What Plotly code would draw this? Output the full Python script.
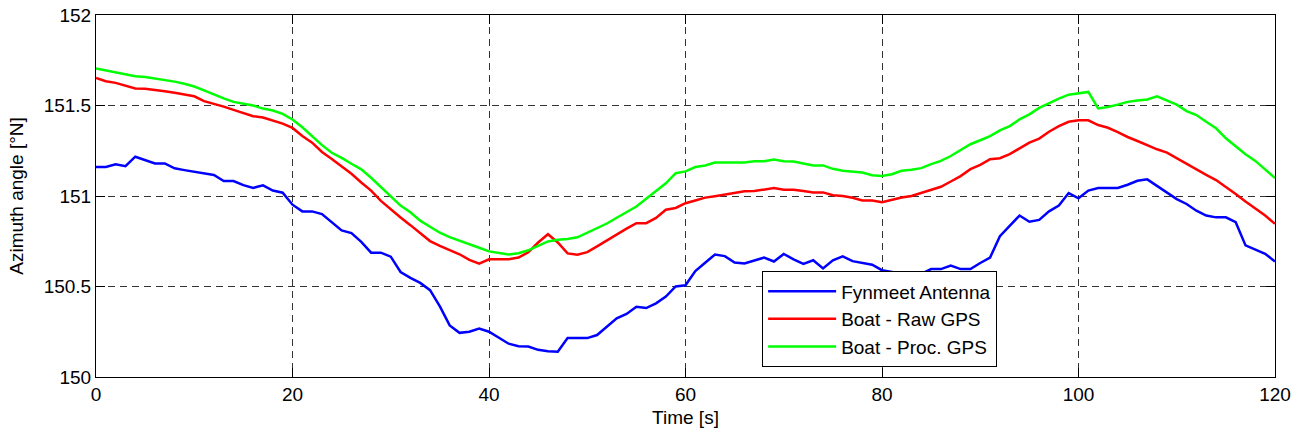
import plotly.graph_objects as go

time_s = list(range(0, 121))

fynmeet_antenna = [
    151.16, 151.16, 151.175, 151.165, 151.217, 151.20, 151.18, 151.18, 151.153, 151.143,
    151.134, 151.125, 151.116, 151.083, 151.083, 151.06, 151.045, 151.059, 151.03, 151.018,
    150.952, 150.915, 150.915, 150.90, 150.857, 150.81, 150.795, 150.747, 150.687, 150.687,
    150.665, 150.58, 150.548, 150.52, 150.48, 150.39, 150.285, 150.244, 150.25, 150.267,
    150.25, 150.216, 150.184, 150.17, 150.168, 150.15, 150.142, 150.14, 150.215, 150.215,
    150.215, 150.232, 150.278, 150.324, 150.348, 150.388, 150.381, 150.407, 150.444, 150.50,
    150.507, 150.585, 150.631, 150.677, 150.668, 150.632, 150.627, 150.645, 150.66, 150.638,
    150.68, 150.65, 150.625, 150.645, 150.60, 150.645, 150.667, 150.64, 150.63, 150.62,
    150.59, 150.58, 150.565, 150.56, 150.57, 150.596, 150.596, 150.615, 150.596, 150.596,
    150.63, 150.66, 150.778, 150.838, 150.892, 150.858, 150.868, 150.915, 150.947, 151.016,
    150.987, 151.03, 151.044, 151.044, 151.044, 151.062, 151.084, 151.092, 151.056, 151.02,
    150.983, 150.956, 150.919, 150.892, 150.882, 150.882, 150.855, 150.727, 150.703, 150.681,
    150.638,
]

boat_raw_gps = [
    151.652, 151.634, 151.625, 151.61, 151.594, 151.593, 151.588, 151.579, 151.57, 151.56,
    151.551, 151.524, 151.51, 151.494, 151.476, 151.46, 151.441, 151.434, 151.419, 151.40,
    151.376, 151.332, 151.295, 151.243, 151.205, 151.163, 151.123, 151.075, 151.03, 150.973,
    150.925, 150.881, 150.839, 150.793, 150.751, 150.724, 150.703, 150.678, 150.647, 150.626,
    150.65, 150.65, 150.651, 150.66, 150.689, 150.743, 150.789, 150.743, 150.683, 150.676,
    150.69, 150.722, 150.755, 150.791, 150.82, 150.85, 150.85, 150.879, 150.924, 150.934,
    150.96, 150.975, 150.991, 150.999, 151.007, 151.014, 151.026, 151.027, 151.035, 151.044,
    151.035, 151.035, 151.027, 151.02, 151.02, 151.004, 151.0, 150.99, 150.975, 150.975,
    150.965, 150.98, 150.992, 151.0, 151.018, 151.033, 151.051, 151.08, 151.11, 151.148,
    151.172, 151.203, 151.209, 151.231, 151.264, 151.295, 151.317, 151.355, 151.386, 151.41,
    151.418, 151.418, 151.392, 151.377, 151.353, 151.326, 151.304, 151.28, 151.258, 151.24,
    151.209, 151.179, 151.145, 151.117, 151.088, 151.051, 151.011, 150.969, 150.932, 150.892,
    150.846,
]

boat_proc_gps = [
    151.704, 151.693, 151.685, 151.671, 151.662, 151.657, 151.649, 151.64, 151.632, 151.62,
    151.605, 151.584, 151.56, 151.539, 151.52, 151.509, 151.50, 151.483, 151.472, 151.454,
    151.423, 151.38, 151.331, 151.281, 151.239, 151.211, 151.178, 151.147, 151.101, 151.05,
    151.0, 150.947, 150.91, 150.864, 150.83, 150.797, 150.773, 150.752, 150.734, 150.714,
    150.694, 150.685, 150.677, 150.684, 150.70, 150.725, 150.749, 150.758, 150.762, 150.772,
    150.796, 150.823, 150.848, 150.88, 150.912, 150.942, 150.985, 151.025, 151.07, 151.126,
    151.136, 151.16, 151.169, 151.185, 151.185, 151.185, 151.185, 151.192, 151.192, 151.202,
    151.192, 151.19, 151.181, 151.169, 151.169, 151.15, 151.14, 151.135, 151.13, 151.115,
    151.11, 151.12, 151.139, 151.145, 151.154, 151.176, 151.194, 151.221, 151.253, 151.286,
    151.308, 151.331, 151.363, 151.386, 151.423, 151.451, 151.487, 151.514, 151.538, 151.56,
    151.569, 151.575, 151.484, 151.492, 151.505, 151.52, 151.527, 151.533, 151.551, 151.527,
    151.505, 151.469, 151.447, 151.41, 151.374, 151.319, 151.273, 151.231, 151.194, 151.148,
    151.099,
]

series_names = ["Fynmeet Antenna", "Boat - Raw GPS", "Boat - Proc. GPS"]
series_colors = ["#0000FF", "#FF0000", "#00FF00"]

x_ticks = [0, 20, 40, 60, 80, 100, 120]
y_ticks = [150, 150.5, 151, 151.5, 152]
y_tick_labels = ["150", "150.5", "151", "151.5", "152"]

FONT = "Liberation Sans, Arial, sans-serif"

fig = go.Figure()
for name, vals, col in zip(series_names, [fynmeet_antenna, boat_raw_gps, boat_proc_gps], series_colors):
    fig.add_trace(go.Scatter(x=time_s, y=vals, mode="lines", name=name,
                             line=dict(color=col, width=2.5)))

axis_common = dict(
    showline=True, linecolor="black", linewidth=1, mirror="ticks",
    ticks="inside", ticklen=9, tickcolor="black", tickwidth=1,
    showgrid=True, gridcolor="#333333", gridwidth=1, griddash="7px,5px",
    zeroline=False, automargin=False, ticklabeloverflow="allow",
    tickfont=dict(family=FONT, size=19, color="black"),
)

fig.update_layout(
    width=1306, height=439,
    margin=dict(l=96, r=31, t=15, b=62),
    paper_bgcolor="white", plot_bgcolor="white",
    font=dict(family=FONT, size=19, color="black"),
    showlegend=True,
    legend=dict(
        x=0.565, y=0.292, xanchor="left", yanchor="top",
        bgcolor="white", bordercolor="black", borderwidth=1,
        font=dict(family=FONT, size=19, color="black"),
        itemwidth=68, tracegroupgap=0,
    ),
    xaxis=dict(range=[0, 120], tickvals=x_ticks, ticktext=[str(v) for v in x_ticks],
               title=dict(text="Time [s]", font=dict(family=FONT, size=19), standoff=6),
               **axis_common),
    yaxis=dict(range=[150, 152], tickvals=y_ticks, ticktext=y_tick_labels,
               title=dict(text="Azimuth angle [°N]", font=dict(family=FONT, size=19), standoff=15),
               **axis_common),
)

fig.write_html(
    "out.html",
    config={"displayModeBar": False},
    post_script="document.body.style.margin='0';document.body.style.overflow='hidden';",
)
